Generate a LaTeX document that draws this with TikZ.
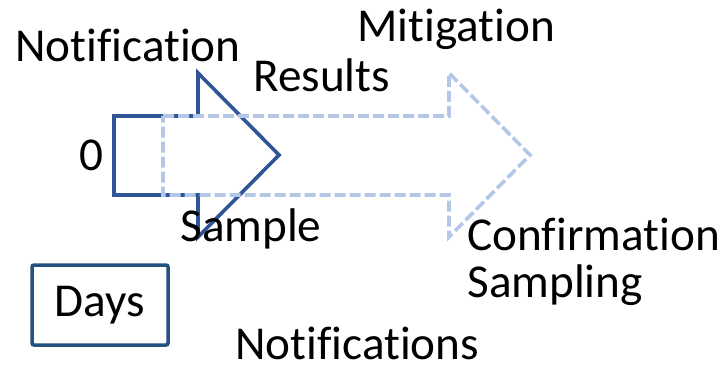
\documentclass[tikz,border=0pt]{standalone}
\usepackage{fontspec}
\setmainfont{Carlito}[Ligatures=NoCommon]

\definecolor{arrowblue}{HTML}{2F5597}
\definecolor{paleblue}{HTML}{B4C7E7}
\definecolor{boxblue}{HTML}{245280}

\tikzset{
  label/.style={anchor=base west, inner sep=0pt, font=\fontsize{23.6}{23.5}\selectfont},
  stage/.style={draw=arrowblue, line width=1.8pt, line join=miter},
  later/.style={draw=paleblue, line width=1.8pt, dash pattern=on 5.5pt off 2pt},
}

\begin{document}
\begin{tikzpicture}[x=0.5pt, y=-0.5pt]
      \useasboundingbox (0,0) rectangle (726,368);

      % current stage, then the next one on top
      \draw [stage] (114,116) -- (198,116) -- (198,73) -- (279,155)
        -- (198,237) -- (198,195) -- (114,195) -- cycle;
      \draw [later] (163,116) -- (449,116) -- (449,73) -- (530,155)
        -- (449,237) -- (449,195) -- (163,195) -- cycle;

      \node [label] (notif) at (15,62) {Notification};
      \node [label] (zero) at (79,171) {0};
      \node [label] (results) at (253,92) {Results};
      \node [label] (mitig) at (357,42) {Mitigation};
      \node [label] (sample) at (180,242) {Sample};
      \node [label, align=left] (confirm) at (467,297) {Confirmation\\Sampling};
      \node [label] (notifs) at (235,359) {Notifications};

      \node [draw=boxblue, line width=1.75pt, rounded corners=1pt,
        minimum width=68pt, minimum height=40pt, inner sep=0pt,
        font=\fontsize{23.6}{23.5}\selectfont] (days) at (100,305) {Days};
    \end{tikzpicture}
\end{document}
